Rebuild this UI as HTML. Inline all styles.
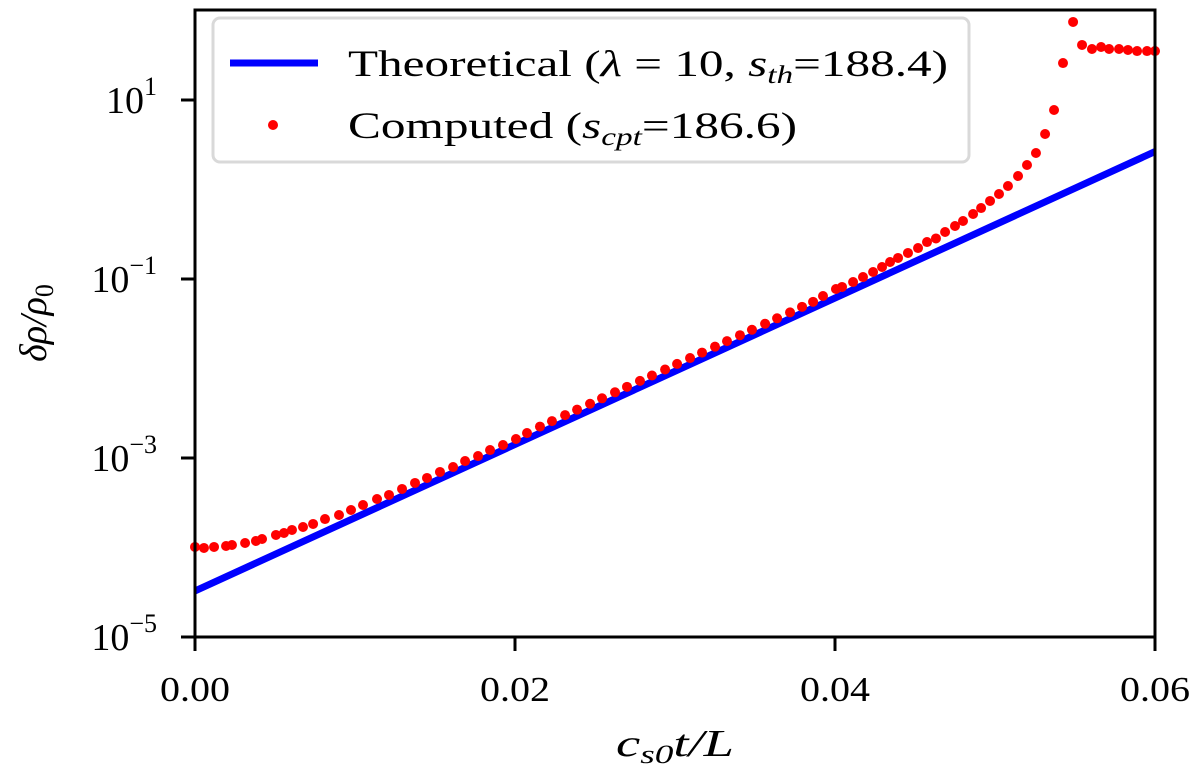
<!DOCTYPE html>
<html><head><meta charset="utf-8"><style>
html,body{margin:0;padding:0;background:#fff}
svg{display:block}
text{font-family:"Liberation Serif",serif;fill:#000}
</style></head><body>
<svg id="chart" width="1200" height="773" viewBox="0 0 1200 773" xmlns="http://www.w3.org/2000/svg">
<g id="plot"></g>
</svg>
<script>
const xTicks=[0,0.02,0.04,0.06];
const xTickLabels=["0.00","0.02","0.04","0.06"];
const yTickExps=[-5,-3,-1,1];
const yTickLabels=["\u22125","\u22123","\u22121","1"];
const theoryA=3.27e-5;
const theoryS=188.4;
const compT=[0,.00056,.00119,.00194,.00231,.00313,.00381,.00419,.00506,.00556,.00606,.00675,.00738,.008125,.009,.00975,.0105,.011375,.012125,.01294,.01375,.0145,.01531,.01613,.01688,.01769,.01844,.01925,.02006,.02075,
.02156,.02231,.02313,.02388,.02469,.02544,.02625,.027,.02781,.02856,.02938,.03013,.03094,.03169,.0325,.03325,.03406,.03481,.03563,.03638,.03719,.03794,.03863,
.03925,.04006,.04044,.04113,.04175,.04238,.04294,.04344,.04394,.04456,.04519,.04575,.04631,.04688,.0475,.048,.04863,.04913,.04969,.05025,.05081,.05144,.052,.05256,.05313,.05369,.05425,.05488,.05544,.05606,.05663,.05713,.05775,.05831,.05888,.0595,.06];
const compLog=[-3.994,-4.005,-3.994,-3.983,-3.972,-3.95,-3.927,-3.905,-3.86,-3.838,-3.804,-3.771,-3.737,-3.682,-3.637,-3.581,-3.525,-3.458,-3.413,-3.346,-3.279,-3.223,-3.156,-3.101,-3.034,-2.978,-2.911,-2.855,-2.788,-2.721,
-2.649,-2.588,-2.521,-2.46,-2.394,-2.333,-2.266,-2.205,-2.138,-2.078,-2.011,-1.949,-1.883,-1.822,-1.756,-1.694,-1.628,-1.567,-1.5,-1.439,-1.373,-1.311,-1.255,
-1.19,-1.112,-1.089,-1.034,-0.978,-0.922,-0.866,-0.81,-0.765,-0.709,-0.654,-0.587,-0.547,-0.475,-0.408,-0.352,-0.274,-0.207,-0.128,-0.05,0.039,0.151,0.274,0.408,0.62,0.888,1.413,1.872,1.615,1.57,1.592,1.57,1.57,1.559,1.547,1.547,1.547];

const L=195,R=1155,T=10,B=637;
const X0=0,X1=0.06,Y0=-5,Y1=2.0056;
const sx=t=>L+(t-X0)/(X1-X0)*(R-L);
const sy=l=>B-(l-Y0)/(Y1-Y0)*(B-T);
const NS="http://www.w3.org/2000/svg";
const g=document.getElementById('plot');
function mk(tag,attrs,parent){const e=document.createElementNS(NS,tag);for(const k in attrs)e.setAttribute(k,attrs[k]);(parent||g).appendChild(e);return e;}

const defs=mk('defs',{});
const cp=mk('clipPath',{id:'clip'},defs);
mk('rect',{x:L,y:T,width:R-L,height:B-T},cp);

const tl=mk('line',{x1:sx(X0),y1:sy(Math.log10(theoryA*Math.exp(theoryS*X0))),x2:sx(X1),y2:sy(Math.log10(theoryA*Math.exp(theoryS*X1))),stroke:'#0000ff','stroke-width':7,'clip-path':'url(#clip)'});



compT.forEach((t,i)=>{
 const c=mk('circle',{cx:sx(t),cy:sy(compLog[i]),r:5,fill:'#ff0000'});
 
 
});

const fr=mk('rect',{x:L,y:T,width:R-L,height:B-T,fill:'none',stroke:'#000','stroke-width':3});



xTicks.forEach((v,i)=>{
 const x=sx(v);
 const tk=mk('line',{x1:x,y1:B,x2:x,y2:B+14,stroke:'#000','stroke-width':3});
 
 
 const tx=mk('text',{x:x,y:B+64,'text-anchor':'middle','font-size':35,textLength:70,lengthAdjust:'spacingAndGlyphs'});
 tx.textContent=xTickLabels[i];
 
 
});
yTickExps.forEach((v,i)=>{
 const y=sy(v);
 const tk=mk('line',{x1:L,y1:y,x2:L-14,y2:y,stroke:'#000','stroke-width':3});
 
 
 const tx=mk('text',{x:L-38,y:y+13,'text-anchor':'end','font-size':38});
 tx.textContent='10';
 const sp=mk('tspan',{dy:-18,'font-size':26},tx);
 sp.textContent=yTickLabels[i];
 
 
});
</script>
<svg style="position:absolute;left:0;top:0" width="1200" height="773" xmlns="http://www.w3.org/2000/svg">
<text x="675" y="756" text-anchor="middle" font-size="38" font-style="italic" textLength="118" lengthAdjust="spacingAndGlyphs">c<tspan font-size="26" dy="7">s0</tspan><tspan dy="-7">t/L</tspan></text>
<text transform="translate(46,323) rotate(-90)" text-anchor="middle" font-size="38" font-style="italic">δρ/ρ<tspan font-size="26" dy="7" font-style="normal">0</tspan></text>
<g>
<rect x="213" y="18" width="756" height="144" rx="7" fill="#fff" fill-opacity="0.85" stroke="#d9d9d9" stroke-width="3"/>
<line x1="230" y1="63" x2="318" y2="63" stroke="#0000ff" stroke-width="7"/>
<text x="348" y="76" font-size="37" textLength="600" lengthAdjust="spacingAndGlyphs">Theoretical (<tspan font-style="italic">λ</tspan> = 10, <tspan font-style="italic">s</tspan><tspan font-size="25" dy="7" font-style="italic">th</tspan><tspan dy="-7">=188.4)</tspan></text>
<circle cx="273" cy="125" r="5" fill="#ff0000"/>
<text x="348" y="138" font-size="37" textLength="449" lengthAdjust="spacingAndGlyphs">Computed (<tspan font-style="italic">s</tspan><tspan font-size="25" dy="7" font-style="italic">cpt</tspan><tspan dy="-7">=186.6)</tspan></text>
</g>
</svg>
</body></html>
